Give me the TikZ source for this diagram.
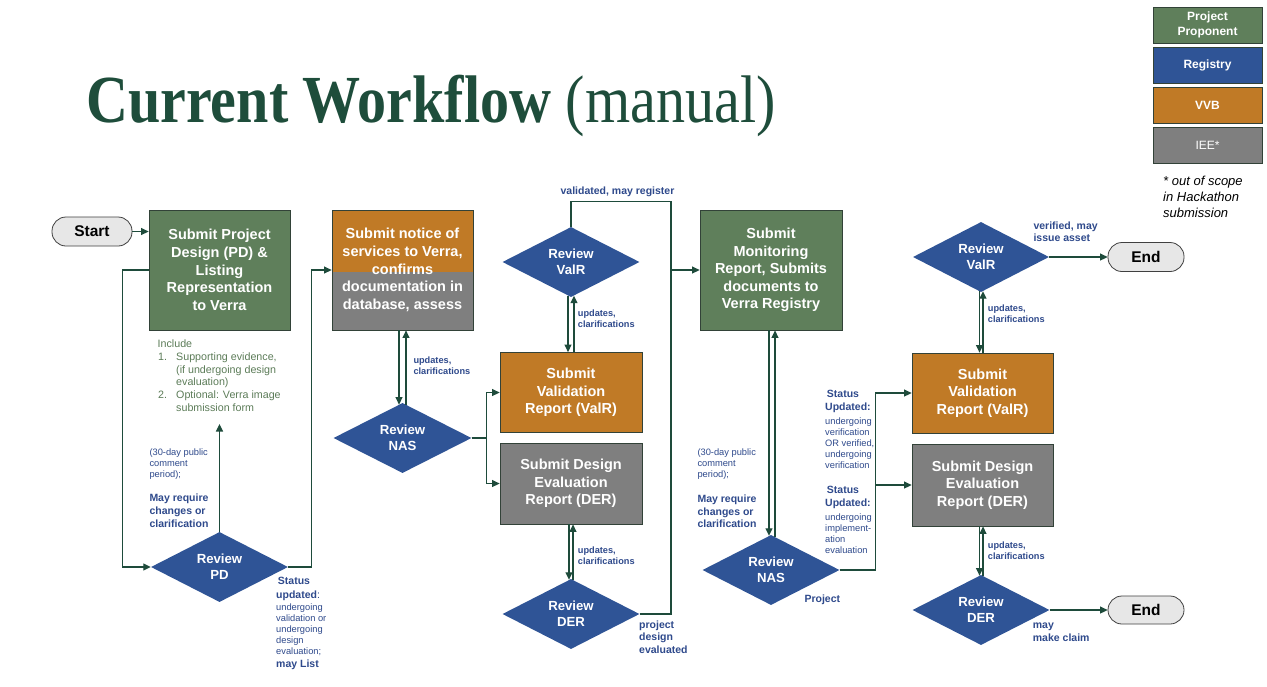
\documentclass[tikz,border=0pt]{standalone}
\usepackage{fontspec}
\setmainfont{Liberation Sans}
\newfontfamily\ttlfont{Liberation Serif}
\usetikzlibrary{shapes.geometric,arrows.meta,calc}
\definecolor{ppgreen}{RGB}{95,127,91}
\definecolor{regblue}{RGB}{47,84,150}
\definecolor{vvborange}{RGB}{192,122,38}
\definecolor{ieegray}{RGB}{127,127,127}
\definecolor{boxline}{RGB}{50,66,56}
\definecolor{pillfill}{RGB}{231,231,231}
\definecolor{pillline}{RGB}{64,64,64}
\definecolor{conn}{RGB}{30,75,59}
\definecolor{lblue}{RGB}{47,74,140}
\definecolor{incgreen}{RGB}{92,124,88}
\definecolor{ttlgreen}{RGB}{30,77,59}
\begin{document}
\begin{tikzpicture}[x=1pt,y=-1pt,
  box/.style={draw=boxline, line width=0.8pt, minimum width=141pt, minimum height=120pt,
    inner sep=0pt, align=center, text=white, font=\bfseries\fontsize{14.5}{17.6}\selectfont},
  dia/.style={diamond, aspect=2, fill=regblue, minimum width=137pt, minimum height=70pt,
    inner sep=0pt, text=white, align=center, font=\bfseries\fontsize{13.2}{16}\selectfont},
  pill/.style={draw=pillline, line width=0.8pt, fill=pillfill, rounded corners=14pt,
    minimum width=80pt, minimum height=29pt, inner sep=0pt,
    font=\bfseries\fontsize{15.5}{18}\selectfont},
  legbox/.style={draw=boxline, line width=0.6pt, minimum width=109pt, minimum height=36pt,
    inner sep=0pt, align=center, text=white, font=\bfseries\fontsize{12}{16}\selectfont},
  arr/.style={draw=conn, line width=1.2pt, -{Triangle[length=7.5pt,width=7pt]}},
  ln/.style={draw=conn, line width=1.2pt},
  lbl/.style={text=lblue, anchor=west, inner sep=0pt, align=left},
  lsmall/.style={lbl, font=\fontsize{9.3}{11}\selectfont},
  lbold/.style={lbl, font=\bfseries\fontsize{10.5}{12.8}\selectfont},
  lupd/.style={lbl, font=\bfseries\fontsize{9.2}{11}\selectfont},
  inc/.style={text=incgreen, anchor=west, inner sep=0pt, align=left, font=\fontsize{10.7}{12.65}\selectfont}
]
\useasboundingbox (0,0) rectangle (1267,686);
\fill[white] (0,0) rectangle (1267,686);

% title
\node[anchor=base west, inner sep=0pt, text=ttlgreen] (title) at (86,122)
  {\scalebox{0.88}[1.02]{\ttlfont\fontsize{66}{70}\selectfont\bfseries Current Workflow \mdseries(manual)}};

% legend
\node[legbox, fill=ppgreen] (lpp) at (1207.5,25) {Project\\[-1.5pt]Proponent};
\node[legbox, fill=regblue] (lreg) at (1207.5,65) {Registry};
\node[legbox, fill=vvborange] (lvvb) at (1207.5,105) {VVB};
\node[legbox, fill=ieegray, font=\fontsize{12}{16}\selectfont] (liee) at (1207.5,145) {IEE*};
\node[anchor=west, align=left, inner sep=0pt, font=\itshape\fontsize{13}{15.7}\selectfont] (note) at (1163,196.7)
  {* out of scope\\in Hackathon\\submission};

% boxes
\node[box, fill=ppgreen] (pd) at (219.5,270) {Submit Project\\Design (PD) \&\\Listing\\Representation\\to Verra};
\node[box, fill=ieegray, path picture={\fill[vvborange] (path picture bounding box.north west) rectangle ([yshift=-62pt]path picture bounding box.north east);}] (notice) at (402.5,270)
  {Submit notice of\\services to Verra,\\confirms\\documentation in\\database, assess};
\node[box, fill=ppgreen, minimum width=142pt] (mon) at (771,270) {Submit\\Monitoring\\Report, Submits\\documents to\\Verra Registry};
\node[box, fill=vvborange, minimum width=142pt, minimum height=80pt] (valr1) at (571,392.5) {Submit\\Validation\\Report (ValR)};
\node[box, fill=ieegray, minimum width=142pt, minimum height=81pt] (der1) at (571,483.5) {Submit Design\\Evaluation\\Report (DER)};
\node[box, fill=vvborange, minimum height=80pt] (valr2) at (982.5,393) {Submit\\Validation\\Report (ValR)};
\node[box, fill=ieegray, minimum height=82pt] (der2) at (982.5,485) {Submit Design\\Evaluation\\Report (DER)};

% diamonds
\node[dia] (rpd) at (219.5,567) {Review\\PD};
\node[dia, minimum width=138pt] (rnas1) at (402.5,438) {Review\\NAS};
\node[dia] (rvalr1) at (571,262) {Review\\ValR};
\node[dia] (rder1) at (571,614) {Review\\DER};
\node[dia] (rnas2) at (771,570) {Review\\NAS};
\node[dia, minimum width=136pt] (rvalr2) at (981,257) {Review\\ValR};
\node[dia] (rder2) at (981,610) {Review\\DER};

% terminals
\node[pill] (start) at (92,231.5) {Start};
\node[pill, minimum width=76pt] (end1) at (1146,257) {End};
\node[pill, minimum width=76pt, minimum height=28pt] (end2) at (1146,610) {End};

% connectors
\draw[arr] (start.east) -- (start.east -| pd.west);
\draw[arr] (pd.west) -- ++(-26,0) |- (rpd.west);
\coordinate (c1) at (219.5,424);
\draw[arr] (rpd.north) -- (c1);
\draw[arr] (rpd.east) -- ++(23,0) |- (notice.west);

\draw[arr] ([xshift=-3.5pt]notice.south) -- ([xshift=-3.5pt,yshift=-1.8pt]notice.south |- rnas1.north);
\draw[arr] ([xshift=3.5pt,yshift=-1.8pt]notice.south |- rnas1.north) -- ([xshift=3.5pt]notice.south);
\draw[arr] (rnas1.east) -- ++(15,0) |- (valr1.west);
\draw[arr] (rnas1.east) -- ++(15,0) |- (der1.west);

\coordinate (j1) at (671,270);
\draw[ln] (rvalr1.north) -- ++(0,-25) -| (j1);
\draw[ln] (rder1.east) -| (j1);
\draw[arr] (j1) -- (mon.west);

\draw[arr] ([xshift=-3pt,yshift=1.5pt]rvalr1.south) -- ([xshift=-3pt]rvalr1.south |- valr1.north);
\draw[arr] ([xshift=3pt]rvalr1.south |- valr1.north) -- ([xshift=3pt,yshift=1.5pt]rvalr1.south);
\draw[arr] ([xshift=-2pt]der1.south) -- ([xshift=-2pt,yshift=-1pt]der1.south |- rder1.north);
\draw[arr] ([xshift=2pt,yshift=-1pt]der1.south |- rder1.north) -- ([xshift=2pt]der1.south);

\draw[arr] ([xshift=-2pt]mon.south) -- ([xshift=-2pt,yshift=-1pt]mon.south |- rnas2.north);
\draw[arr] ([xshift=4pt,yshift=-2pt]mon.south |- rnas2.north) -- ([xshift=4pt]mon.south);
\draw[arr] (rnas2.east) -- ++(36,0) |- (valr2.west);
\draw[arr] (rnas2.east) -- ++(36,0) |- (der2.west);

\draw[arr] ([xshift=-1.5pt,yshift=0.8pt]rvalr2.south) -- ([xshift=-1.5pt]rvalr2.south |- valr2.north);
\draw[arr] ([xshift=2pt]rvalr2.south |- valr2.north) -- ([xshift=2pt,yshift=1pt]rvalr2.south);
\draw[arr] ([xshift=-1.5pt]rder2.north |- der2.south) -- ([xshift=-1.5pt,yshift=-0.8pt]rder2.north);
\draw[arr] ([xshift=2pt,yshift=-1pt]rder2.north) -- ([xshift=2pt]rder2.north |- der2.south);

\draw[arr] (rvalr2.east) -- (end1.west);
\draw[arr] (rder2.east) -- (end2.west);

% include text
\node[inc] (inc0) at (157.5,343.3) {Include};
\node[inc] (inc1) at (158,356.7) {1.};
\node[inc] (inc2) at (158,395) {2.};
\node[inc] (incb) at (176,382) {Supporting evidence,\\(if undergoing design\\evaluation)\\Optional: Verra image\\submission form};

% labels left
\node[lsmall] (l30a) at (149.3,464) {(30-day public\\comment\\period);};
\node[lbold] (lmaya) at (149.3,511) {May require\\changes or\\clarification};
\node[lbl, font=\bfseries\fontsize{10.5}{13.4}\selectfont] (lsta) at (276,589) {\,Status\\updated\mdseries:};
\node[lsmall] (lstb) at (276,629.7) {undergoing\\validation or\\undergoing\\design\\evaluation;};
\node[lbold] (lstc) at (276,664.3) {may List};

\node[lupd] (lu1) at (413.3,365.5) {updates,\\clarifications};
\node[lbold, anchor=center] (lvmr) at (617.5,192.3) {validated, may register};
\node[lupd] (lu2) at (577.7,318.7) {updates,\\clarifications};
\node[lupd] (lu3) at (577.7,555.3) {updates,\\clarifications};
\node[lbold] (lpde) at (639,637.2) {project\\design\\evaluated};

% labels right
\node[lsmall] (l30b) at (697.3,463.8) {(30-day public\\comment\\period);};
\node[lbold] (lmayb) at (697.3,511.3) {May require\\changes or\\clarification};
\node[lbl, font=\bfseries\fontsize{10.5}{13.3}\selectfont] (lsu1) at (825,401.7) {\,Status\\Updated:};
\node[lsmall] (lsu1b) at (825,442.7) {undergoing\\verification\\OR verified,\\undergoing\\verification};
\node[lbl, font=\bfseries\fontsize{10.5}{13.3}\selectfont] (lsu2) at (825,497.7) {\,Status\\Updated:};
\node[lsmall] (lsu2b) at (825,533.2) {undergoing\\implement-\\ation\\evaluation};
\node[lbold] (lproj) at (804.3,599.3) {Project};
\node[lupd] (lu4) at (987.7,314.2) {updates,\\clarifications};
\node[lupd] (lu5) at (987.7,551.2) {updates,\\clarifications};
\node[lbold] (lvia) at (1033.3,231.7) {verified, may\\issue asset};
\node[lbold] (lmmc) at (1032.7,632.5) {may\\make claim};
\end{tikzpicture}
\end{document}
